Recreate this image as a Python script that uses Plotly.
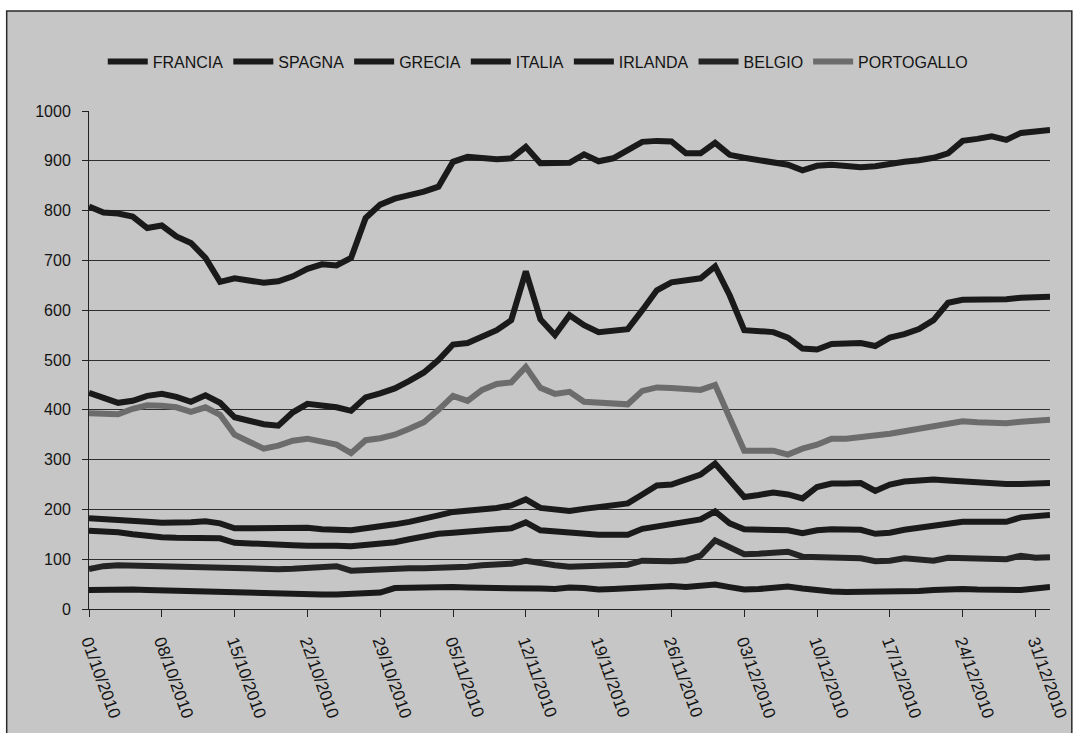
import pandas as pd
import plotly.graph_objects as go

# Trading days shown on the category axis (Oct 2010 - first business day of 2011)
dates = [d.strftime("%d/%m/%Y") for d in pd.bdate_range("2010-10-01", "2011-01-03")]
tick_labels = dates[::5][:14]

francia = [38, 39, 40, 39, 38, 37, 36, 35, 35, 34,
           32, 31, 31, 30, 30, 29, 29, 29, 30, 32,
           33, 42, 43, 44, 44, 44, 43, 43, 44, 44,
           43, 41, 40, 43, 42, 39, 40, 42, 43, 44,
           46, 44, 45, 49, 44, 39, 40, 43, 45, 41,
           37, 35, 34, 34, 33, 33, 34, 36, 38, 40,
           40, 39, 38, 36, 38, 41, 44]
spagna = [182, 181, 179, 177, 175, 173, 172, 174, 176, 172,
          162, 162, 161, 162, 164, 163, 160, 158, 158, 162,
          165, 170, 175, 180, 188, 195, 197, 199, 203, 208,
          220, 203, 199, 197, 201, 204, 207, 212, 230, 248,
          250, 260, 270, 292, 258, 225, 229, 234, 230, 222,
          245, 252, 252, 253, 237, 250, 256, 258, 260, 258,
          256, 253, 252, 251, 251, 252, 253]
grecia = [808, 796, 794, 788, 765, 770, 748, 735, 705, 657,
          664, 658, 655, 658, 668, 683, 692, 690, 705, 785,
          812, 824, 830, 838, 848, 898, 908, 906, 903, 905,
          928, 895, 895, 896, 913, 899, 905, 921, 938, 940,
          939, 915, 915, 936, 912, 906, 902, 897, 892, 881,
          890, 892, 888, 887, 889, 895, 898, 901, 906, 915,
          940, 944, 949, 942, 956, 959, 962]
italia = [157, 156, 154, 150, 146, 144, 143, 142, 143, 142,
          133, 131, 130, 129, 128, 127, 128, 127, 126, 128,
          130, 134, 140, 146, 151, 153, 156, 158, 160, 162,
          174, 158, 155, 153, 151, 149, 149, 149, 161, 165,
          170, 174, 180, 196, 172, 160, 160, 161, 158, 152,
          158, 160, 160, 159, 151, 153, 159, 164, 168, 171,
          175, 174, 173, 175, 184, 188, 189]
irlanda = [434, 424, 414, 418, 428, 432, 426, 416, 429, 414,
           385, 378, 371, 368, 395, 412, 410, 405, 398, 425,
           433, 443, 458, 475, 500, 531, 534, 548, 560, 580,
           678, 582, 550, 590, 570, 556, 558, 562, 600, 640,
           656, 660, 664, 688, 630, 560, 558, 556, 545, 523,
           521, 532, 533, 534, 528, 545, 552, 562, 580, 615,
           621, 621, 622, 622, 625, 626, 627]
belgio = [80, 86, 88, 87, 86, 86, 85, 84, 83, 82,
          81, 81, 81, 80, 81, 82, 83, 86, 77, 79,
          81, 81, 82, 82, 82, 83, 85, 88, 90, 91,
          97, 91, 88, 85, 86, 87, 88, 89, 97, 96,
          96, 98, 107, 138, 123, 110, 111, 113, 115, 105,
          104, 103, 102, 102, 96, 97, 102, 101, 97, 103,
          102, 101, 100, 100, 107, 103, 104]
portogallo = [393, 392, 391, 402, 409, 408, 405, 396, 405, 390,
              350, 336, 322, 328, 338, 342, 336, 330, 313, 339,
              343, 350, 362, 375, 400, 428, 418, 440, 452, 455,
              486, 444, 432, 436, 416, 415, 413, 411, 438, 445,
              444, 441, 440, 450, 385, 318, 318, 318, 310, 322,
              330, 342, 342, 345, 350, 352, 357, 362, 368, 373,
              377, 375, 373, 373, 376, 378, 380]

series = [
    ("FRANCIA", francia, "#1a1a1a"),
    ("SPAGNA", spagna, "#1a1a1a"),
    ("GRECIA", grecia, "#1a1a1a"),
    ("ITALIA", italia, "#1a1a1a"),
    ("IRLANDA", irlanda, "#1a1a1a"),
    ("BELGIO", belgio, "#242424"),
    ("PORTOGALLO", portogallo, "#6c6c6c"),
]

FONT = "Liberation Sans, Arial, sans-serif"
INK = "#141414"
PANEL = "#c6c6c6"

fig = go.Figure()
for name, values, color in series:
    fig.add_trace(go.Scatter(
        x=dates, y=values, name=name, mode="lines",
        line=dict(color=color, width=6),
    ))

# page geometry in pixels
W, H = 1083, 733
L, R, T, B = 89, 25, 111, 119
pw, ph = W - L - R, H - T - B


def px_x(p):
    return (p - L) / pw


def px_y(p):
    return (H - B - p) / ph


fig.add_shape(type="rect", xref="paper", yref="paper", layer="below",
              x0=px_x(6), x1=px_x(1080), y0=px_y(740), y1=px_y(10),
              fillcolor=PANEL, line=dict(color="#2a2a2a", width=1.5))

fig.update_layout(
    width=W, height=H,
    margin=dict(l=L, r=R, t=T, b=B, pad=0),
    paper_bgcolor="white",
    plot_bgcolor="rgba(0,0,0,0)",
    font=dict(family=FONT, color=INK, size=16),
    showlegend=True,
    legend=dict(orientation="h", x=px_x(542), xanchor="center", y=px_y(61), yanchor="middle",
                font=dict(size=16, color=INK), bgcolor="rgba(0,0,0,0)",
                itemwidth=40, tracegroupgap=0),
    xaxis=dict(
        type="category", categoryorder="array", categoryarray=dates,
        range=[0, len(dates) - 1],
        tickmode="array", tickvals=tick_labels, ticktext=tick_labels,
        tickangle=70, ticks="outside", ticklen=7, tickcolor="#222",
        ticklabelstandoff=8,
        tickfont=dict(size=17, color=INK),
        showgrid=False, showline=True, linecolor="#222", linewidth=1,
        zeroline=False,
    ),
    yaxis=dict(
        range=[0, 1000], tickmode="linear", tick0=0, dtick=100,
        ticks="outside", ticklen=6, tickcolor="#222",
        ticklabelstandoff=8,
        tickfont=dict(size=16, color=INK),
        showgrid=True, gridcolor="#2e2e2e", gridwidth=1,
        showline=True, linecolor="#222", linewidth=1,
        zeroline=False,
    ),
)

fig.write_html("out.html")
